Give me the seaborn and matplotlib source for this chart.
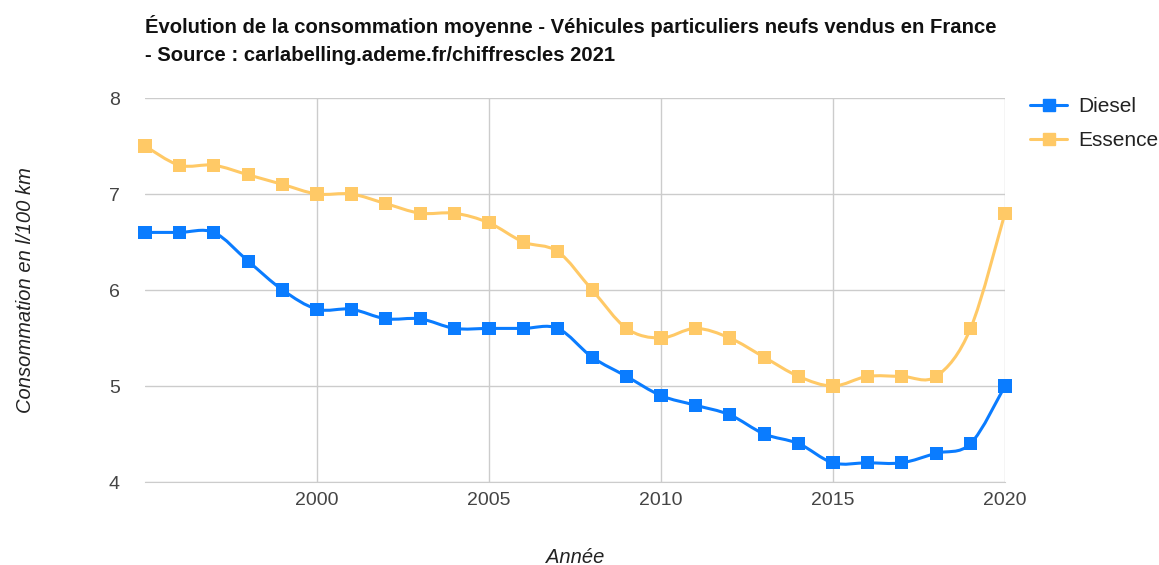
import numpy as np
import pandas as pd
import matplotlib.pyplot as plt
import seaborn as sns
from matplotlib.path import Path
from matplotlib.patches import PathPatch
from matplotlib.lines import Line2D

# Data
YEARS = list(range(1995, 2021))
DIESEL = [6.6, 6.6, 6.6, 6.3, 6.0, 5.8, 5.8, 5.7, 5.7, 5.6, 5.6, 5.6, 5.6,
          5.3, 5.1, 4.9, 4.8, 4.7, 4.5, 4.4, 4.2, 4.2, 4.2, 4.3, 4.4, 5.0]
ESSENCE = [7.5, 7.3, 7.3, 7.2, 7.1, 7.0, 7.0, 6.9, 6.8, 6.8, 6.7, 6.5, 6.4,
           6.0, 5.6, 5.5, 5.6, 5.5, 5.3, 5.1, 5.0, 5.1, 5.1, 5.1, 5.6, 6.8]
SERIES = ['Diesel', 'Essence']
COLORS = {'Diesel': '#0a7cff', 'Essence': '#ffc966'}
X_TICKS = [2000, 2005, 2010, 2015, 2020]
Y_TICKS = [4, 5, 6, 7, 8]

TITLE = ('Évolution de la consommation moyenne - Véhicules particuliers '
         'neufs vendus en France\n- Source : carlabelling.ademe.fr/chiffrescles 2021')

sns.set_style('white')
plt.rcParams['font.family'] = ['Liberation Sans', 'DejaVu Sans']


def smooth_path(x, y, k=1 / 6):
    # Catmull-Rom style cubic bezier through the points (like curveType 'function')
    x = np.asarray(x, float)
    y = np.asarray(y, float)
    verts = [(x[0], y[0])]
    codes = [Path.MOVETO]
    n = len(x)
    for i in range(n - 1):
        p0 = max(i - 1, 0)
        p3 = min(i + 2, n - 1)
        c1 = (x[i] + (x[i + 1] - x[p0]) * k, y[i] + (y[i + 1] - y[p0]) * k)
        c2 = (x[i + 1] - (x[p3] - x[i]) * k, y[i + 1] - (y[p3] - y[i]) * k)
        verts += [c1, c2, (x[i + 1], y[i + 1])]
        codes += [Path.CURVE4] * 3
    return Path(verts, codes)


def main():
    df = pd.DataFrame({'Année': YEARS * 2,
                       'Valeur': DIESEL + ESSENCE,
                       'Type': ['Diesel'] * len(YEARS) + ['Essence'] * len(YEARS)})

    fig = plt.figure(figsize=(11.59, 5.65), dpi=100)
    ax = fig.add_axes([0.1251, 0.1469, 0.742, 0.6796])

    # Smoothed lines
    for name in SERIES:
        sub = df[df['Type'] == name]
        patch = PathPatch(smooth_path(sub['Année'], sub['Valeur']),
                          facecolor='none', edgecolor=COLORS[name], lw=2.2,
                          zorder=3, clip_on=False)
        ax.add_patch(patch)

    # Square markers
    sns.scatterplot(data=df, x='Année', y='Valeur', hue='Type', palette=COLORS,
                    marker='s', s=90, linewidth=0, legend=False, zorder=4,
                    clip_on=False, ax=ax)

    ax.set_xlim(1995, 2020)
    ax.set_ylim(4, 8)
    ax.set_xticks(X_TICKS)
    ax.set_yticks(Y_TICKS)
    ax.grid(True, color='#cccccc', lw=1)
    ax.set_axisbelow(True)
    for side in ['top', 'right', 'left']:
        ax.spines[side].set_visible(False)
    ax.spines['bottom'].set_color('#cccccc')
    ax.tick_params(axis='both', length=0, labelsize=14, labelcolor='#444444')
    ax.tick_params(axis='y', pad=18)
    ax.tick_params(axis='x', pad=7)

    ax.set_xlabel('Année', fontsize=14.5, style='italic', color='#222222')
    ax.set_ylabel('Consommation en l/100 km', fontsize=14.5, style='italic',
                  color='#222222')
    ax.xaxis.set_label_coords(0.5, -0.172)
    ax.yaxis.set_label_coords(-0.128, 0.5)

    fig.text(145 / 1159, 1 - 15 / 565, TITLE, fontsize=14.6, weight='bold',
             color='#111111', va='top', ha='left', linespacing=1.62)

    handles = [Line2D([], [], color=COLORS[s], lw=2.2, marker='s', markersize=8.5)
               for s in SERIES]
    ax.legend(handles, SERIES, loc='upper left', bbox_to_anchor=(1.029, 1.002),
              frameon=False, fontsize=15, handlelength=1.8, handletextpad=0.5,
              borderpad=0, borderaxespad=0, labelspacing=0.72,
              labelcolor='#222222')

    fig.savefig('out.png', dpi=100)
    plt.close()


if __name__ == '__main__':
    main()
